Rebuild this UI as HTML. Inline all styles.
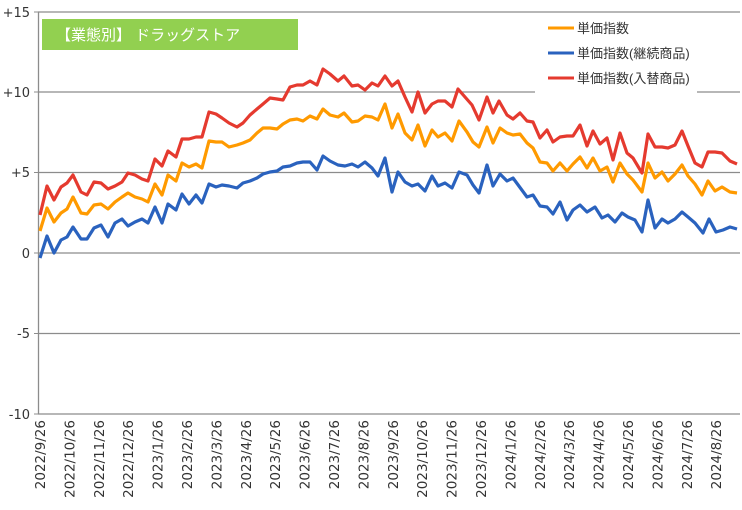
<!DOCTYPE html>
<html><head><meta charset="utf-8"><style>
html,body{margin:0;padding:0;background:#fff;}
svg{display:block;font-family:"Liberation Sans","Noto Sans CJK JP",sans-serif;}
.dv{font-family:"DejaVu Sans",sans-serif;}
</style></head><body>
<svg width="742" height="510" viewBox="0 0 742 510">
<rect width="742" height="510" fill="#fff"/>
<g stroke="#8c8c8c" stroke-width="1.3">
<line x1="38" y1="12" x2="740" y2="12"/>
<line x1="38" y1="92" x2="535" y2="92"/><line x1="697" y1="92" x2="740" y2="92"/>
<line x1="38" y1="172.5" x2="740" y2="172.5"/>
<line x1="38" y1="253" x2="740" y2="253"/>
<line x1="38" y1="333.5" x2="740" y2="333.5"/>
<line x1="38" y1="414" x2="740" y2="414"/>
<line x1="38.5" y1="12" x2="38.5" y2="414"/>
</g>
<g stroke="#8c8c8c" stroke-width="1">
<line x1="34" y1="12" x2="38" y2="12"/><line x1="34" y1="92" x2="38" y2="92"/><line x1="34" y1="172.5" x2="38" y2="172.5"/><line x1="34" y1="253" x2="38" y2="253"/><line x1="34" y1="333.5" x2="38" y2="333.5"/><line x1="34" y1="414" x2="38" y2="414"/>
</g>
<g class="dv" font-size="13" fill="#333" text-anchor="end">
<text x="30" y="17">+15</text><text x="30" y="97">+10</text><text x="30" y="177">+5</text><text x="30" y="258">0</text><text x="30" y="338">-5</text><text x="30" y="419">-10</text>
</g>
<g class="dv" font-size="13.5" fill="#333" text-anchor="end">
<text transform="translate(45,420) rotate(-90)">2022/9/26</text>
<text transform="translate(74.4,420) rotate(-90)">2022/10/26</text>
<text transform="translate(103.8,420) rotate(-90)">2022/11/26</text>
<text transform="translate(133.2,420) rotate(-90)">2022/12/26</text>
<text transform="translate(162.6,420) rotate(-90)">2023/1/26</text>
<text transform="translate(192,420) rotate(-90)">2023/2/26</text>
<text transform="translate(221.4,420) rotate(-90)">2023/3/26</text>
<text transform="translate(250.8,420) rotate(-90)">2023/4/26</text>
<text transform="translate(280.2,420) rotate(-90)">2023/5/26</text>
<text transform="translate(309.6,420) rotate(-90)">2023/6/26</text>
<text transform="translate(339,420) rotate(-90)">2023/7/26</text>
<text transform="translate(368.4,420) rotate(-90)">2023/8/26</text>
<text transform="translate(397.8,420) rotate(-90)">2023/9/26</text>
<text transform="translate(427.2,420) rotate(-90)">2023/10/26</text>
<text transform="translate(456.6,420) rotate(-90)">2023/11/26</text>
<text transform="translate(486,420) rotate(-90)">2023/12/26</text>
<text transform="translate(515.4,420) rotate(-90)">2024/1/26</text>
<text transform="translate(544.8,420) rotate(-90)">2024/2/26</text>
<text transform="translate(574.2,420) rotate(-90)">2024/3/26</text>
<text transform="translate(603.6,420) rotate(-90)">2024/4/26</text>
<text transform="translate(633,420) rotate(-90)">2024/5/26</text>
<text transform="translate(662.4,420) rotate(-90)">2024/6/26</text>
<text transform="translate(691.8,420) rotate(-90)">2024/7/26</text>
<text transform="translate(721.2,420) rotate(-90)">2024/8/26</text>
</g>
<g fill="none" stroke-width="3.2" stroke-linejoin="round">
<polyline stroke="#e53a2f" points="40,215 47,186 54,200 61,187 67,183 73,175 81,192 87,195 94,182 101,183 108,189 115,186 122,182 128,173 135,175 142,179 148,181 155,159 162,166 168,151 176,157 182,139 189,139 196,137 202,137 209,112 216,114 222,118 229,123 237,127 243,123 250,115 257,109 263,104 270,98 277,99 283,100 290,87 297,85 303,85 310,81 317,85 323,69 330,74 338,81 344,76 352,86 358,85 365,90 372,83 378,86 385,76 392,86 398,81 405,97 412,112 418,92 425,113 432,104 438,101 445,101 452,107 458,89 465,97 472,105 479,120 487,97 493,113 499,101 507,115 513,119 520,113 527,121 533,122 540,138 547,130 553,142 560,137 567,136 573,136 580,125 587,146 593,131 600,144 607,138 613,160 620,133 627,153 633,158 642,173 648,134 655,147 662,147 668,148 675,145 682,131 688,146 695,163 702,167 708,152 715,152 722,153 730,161 737,164"/>
<polyline stroke="#ff9a00" points="40,231 47,208 54,222 61,213 67,209 73,197 81,213 87,214 94,205 101,204 108,209 115,202 122,197 128,193 135,197 142,199 148,202 155,184 162,195 168,175 176,181 182,163 189,167 196,164 202,168 209,141 216,142 222,142 229,147 237,145 243,143 250,140 257,133 263,128 270,128 277,129 283,124 290,120 297,119 303,121 310,116 317,119 323,109 330,115 338,117 344,113 352,122 358,121 365,116 372,117 378,120 385,104 392,128 398,114 405,133 412,140 418,125 425,146 432,130 438,137 445,133 452,141 459,121 467,132 473,142 479,147 487,127 493,143 500,128 507,133 513,135 520,134 527,143 533,148 540,162 547,163 553,171 560,163 567,171 573,164 580,157 587,168 593,158 600,171 607,167 613,182 620,163 627,174 633,180 642,192 648,163 655,178 662,172 668,181 675,174 682,165 688,176 695,184 702,195 708,181 715,191 722,187 730,192 737,193"/>
<polyline stroke="#2a62be" points="40,258 47,236 54,253 61,240 67,237 73,227 81,239 87,239 94,228 101,225 108,237 115,223 122,219 128,226 135,222 142,219 148,223 155,207 162,223 168,204 176,210 182,194 189,204 196,195 202,203 209,184 216,187 222,185 229,186 237,188 243,183 250,181 257,178 263,174 270,172 277,171 283,167 290,166 297,163 303,162 310,162 317,170 323,156 330,161 338,165 345,166 352,164 358,167 365,162 372,168 378,176 385,158 392,192 398,172 405,182 412,186 418,184 425,191 432,176 438,186 445,183 452,188 459,172 467,175 473,185 479,193 487,165 493,186 500,174 507,181 513,178 527,197 533,195 540,206 547,207 553,214 560,202 567,220 573,210 580,205 587,212 595,207 602,218 608,215 615,222 622,213 628,217 635,220 642,232 648,200 655,228 662,219 668,223 675,219 682,212 688,217 695,223 703,233 709,219 716,232 723,230 730,227 737,229"/>
</g>
<rect x="42" y="19" width="256" height="31" fill="#92d050"/>
<text x="56" y="40" font-size="15" fill="#fff">【業態別】 ドラッグストア</text>
<g stroke-width="3">
<line x1="548" y1="28" x2="574" y2="28" stroke="#ff9a00"/>
<line x1="548" y1="53" x2="574" y2="53" stroke="#2a62be"/>
<line x1="548" y1="78" x2="574" y2="78" stroke="#e53a2f"/>
</g>
<g font-size="13" fill="#333">
<text x="577" y="33">単価指数</text>
<text x="577" y="58">単価指数(継続商品)</text>
<text x="577" y="83">単価指数(入替商品)</text>
</g>
</svg>
</body></html>
